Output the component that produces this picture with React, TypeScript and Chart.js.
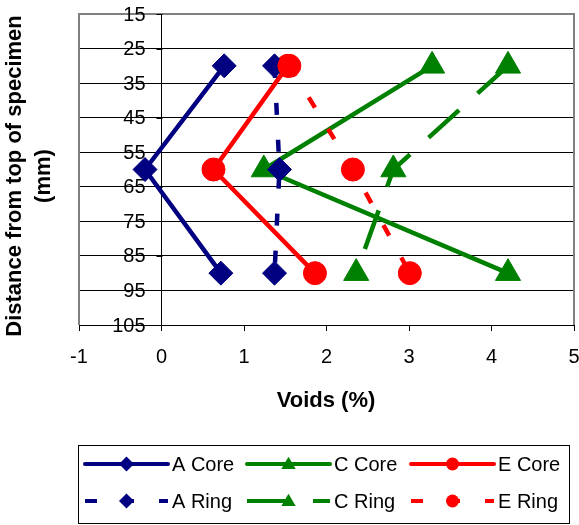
import React, { useEffect, useRef } from "react";
import { Chart, registerables } from "chart.js";

Chart.register(...registerables);

const FONT = "'Liberation Sans', Arial, sans-serif";

// Data (Voids % vs distance from top of specimen, mm)
const depths = [30, 60, 90];
const aCore = [0.76, -0.2, 0.72];
const cCore = [3.28, 1.24, 4.2];
const eCore = [1.53, 0.63, 1.86];
const aRing = [1.37, 1.43, 1.37];
const cRing = [4.2, 2.81, 2.36];
const eRing = [1.55, 2.32, 3.01];

const seriesNames = ["A Core", "C Core", "E Core", "A Ring", "C Ring", "E Ring"];
const xTicks = [-1, 0, 1, 2, 3, 4, 5];
const yTicks = [15, 25, 35, 45, 55, 65, 75, 85, 95, 105];
const xTitle = "Voids (%)";
const yTitleLines = ["Distance from top of specimen", "(mm)"];

const NAVY = "#000080";
const GREEN = "#008000";
const RED = "#FF0000";

type Style = { color: string; point: string; radius: number; dash: number[]; legendR: number };
const styles: Style[] = [
  { color: NAVY, point: "rectRot", radius: 12, dash: [], legendR: 7.5 },
  { color: GREEN, point: "triangle", radius: 14.5, dash: [], legendR: 8 },
  { color: RED, point: "circle", radius: 11.5, dash: [], legendR: 6.5 },
  { color: NAVY, point: "rectRot", radius: 12, dash: [12, 25], legendR: 7.5 },
  { color: GREEN, point: "triangle", radius: 14.5, dash: [41, 25], legendR: 8 },
  { color: RED, point: "circle", radius: 11.5, dash: [12, 25], legendR: 6.5 },
];
const seriesValues = [aCore, cCore, eCore, aRing, cRing, eRing];

function drawMarker(ctx: CanvasRenderingContext2D, style: string, x: number, y: number, r: number, color: string) {
  ctx.save();
  ctx.setLineDash([]);
  ctx.fillStyle = color;
  ctx.beginPath();
  if (style === "rectRot") {
    ctx.moveTo(x, y - r);
    ctx.lineTo(x + r, y);
    ctx.lineTo(x, y + r);
    ctx.lineTo(x - r, y);
    ctx.closePath();
  } else if (style === "triangle") {
    const h = r * 0.9;
    ctx.moveTo(x, y - h);
    ctx.lineTo(x + h, y + h * 0.7);
    ctx.lineTo(x - h, y + h * 0.7);
    ctx.closePath();
  } else {
    ctx.arc(x, y, r, 0, Math.PI * 2);
  }
  ctx.fill();
  ctx.restore();
}

const decorPlugin = {
  id: "decor",
  beforeDatasetsDraw(chart: any) {
    const { ctx, chartArea, scales } = chart;
    const { left, right, top, bottom } = chartArea;
    ctx.save();
    ctx.strokeStyle = "#808080";
    ctx.lineWidth = 2;
    ctx.beginPath();
    ctx.moveTo(left, bottom);
    ctx.lineTo(left, top);
    ctx.lineTo(right, top);
    ctx.lineTo(right, bottom);
    ctx.stroke();
    const axisX = Math.round(scales.x.getPixelForValue(0)) + 0.5;
    // y axis tick marks (pointing left from the axis at x = 0)
    ctx.strokeStyle = "#000";
    ctx.lineWidth = 1;
    ctx.beginPath();
    yTicks.forEach((v) => {
      const py = Math.round(scales.y.getPixelForValue(v)) + 0.5;
      ctx.moveTo(axisX - 6, py);
      ctx.lineTo(axisX, py);
    });
    ctx.stroke();
    ctx.fillStyle = "#000";
    ctx.font = `20px ${FONT}`;
    // Y tick labels, right-aligned a little left of the y axis
    ctx.textAlign = "right";
    ctx.textBaseline = "middle";
    yTicks.forEach((v) => {
      ctx.fillText(String(v), axisX - 17, scales.y.getPixelForValue(v) + 1);
    });
    // X tick labels below the axis
    ctx.textAlign = "center";
    xTicks.forEach((v) => {
      ctx.fillText(String(v), scales.x.getPixelForValue(v), bottom + 32);
    });
    ctx.restore();
  },
  afterDraw(chart: any) {
    const { ctx } = chart;
    ctx.save();
    // Y title (rotated)
    ctx.fillStyle = "#000";
    ctx.font = `bold 22px ${FONT}`;
    ctx.textAlign = "center";
    ctx.textBaseline = "alphabetic";
    const baselines = [21, 50];
    yTitleLines.forEach((line, i) => {
      ctx.save();
      ctx.translate(baselines[i], 176);
      ctx.rotate(-Math.PI / 2);
      ctx.fillText(line, 0, 0);
      ctx.restore();
    });
    // X title
    ctx.font = `bold 22px ${FONT}`;
    ctx.textBaseline = "middle";
    ctx.fillText(xTitle, 326, 401);

    // Legend
    ctx.strokeStyle = "#000";
    ctx.lineWidth = 1;
    ctx.strokeRect(78.5, 445.5, 491, 78);
    const colX = [85, 247, 411];
    const rowY = [464, 501];
    const lineLen = 83;
    ctx.font = `20px ${FONT}`;
    ctx.textAlign = "left";
    ctx.textBaseline = "middle";
    seriesNames.forEach((name, i) => {
      const st = styles[i];
      const x0 = colX[i % 3];
      const y0 = rowY[Math.floor(i / 3)];
      ctx.save();
      ctx.strokeStyle = st.color;
      ctx.lineWidth = 4;
      ctx.lineCap = st.dash.length ? "butt" : "round";
      ctx.setLineDash(st.dash);
      ctx.beginPath();
      ctx.moveTo(x0, y0);
      ctx.lineTo(x0 + lineLen, y0);
      ctx.stroke();
      ctx.restore();
      drawMarker(ctx, st.point, x0 + lineLen / 2, y0, st.legendR, st.color);
      ctx.fillStyle = "#000";
      ctx.fillText(name, x0 + lineLen + 4, y0 + 1);
    });
    ctx.restore();
  },
};

export default function App() {
  const ref = useRef<HTMLCanvasElement | null>(null);
  useEffect(() => {
    if (!ref.current) return;
    const datasets = seriesNames.map((name, i) => {
      const st = styles[i];
      return {
        label: name,
        data: depths.map((d, j) => ({ x: seriesValues[i][j], y: d })),
        showLine: true,
        borderColor: st.color,
        backgroundColor: st.color,
        borderWidth: 4.5,
        borderDash: st.dash,
        borderCapStyle: st.dash.length ? "butt" : "round",
        borderJoinStyle: "round",
        pointStyle: st.point,
        pointRadius: st.radius,
        pointHoverRadius: st.radius,
        pointBorderWidth: 1,
        pointBorderColor: st.color,
        pointBackgroundColor: st.color,
        order: seriesNames.length - i,
        clip: false,
      };
    });
    const chart = new Chart(ref.current, {
      type: "scatter",
      data: { datasets } as any,
      plugins: [decorPlugin],
      options: {
        responsive: false,
        animation: false,
        devicePixelRatio: 1,
        layout: { autoPadding: false, padding: { left: 79, right: 5, top: 14, bottom: 0 } },
        plugins: { legend: { display: false }, tooltip: { enabled: false } },
        scales: {
          x: {
            type: "linear",
            position: "bottom",
            min: -1,
            max: 5,
            afterBuildTicks: (s: any) => {
              s.ticks = xTicks.map((v) => ({ value: v }));
            },
            afterFit: (s: any) => {
              s.height = 200;
            },
            grid: {
              color: (c: any) => (c.tick && c.tick.value === 0 ? "#000" : "rgba(0,0,0,0)"),
              tickColor: "#000",
              tickLength: 6,
            },
            border: { display: true, color: "#000", width: 1 },
            ticks: { display: false },
          },
          y: {
            type: "linear",
            position: "left",
            min: 15,
            max: 105,
            reverse: true,
            afterBuildTicks: (s: any) => {
              s.ticks = yTicks.map((v) => ({ value: v }));
            },
            afterFit: (s: any) => {
              s.width = 0;
            },
            grid: { color: "#000", drawTicks: false, tickLength: 0 },
            border: { display: false },
            ticks: { display: false },
          },
        },
      } as any,
    });
    return () => chart.destroy();
  }, []);
  return (
    <div style={{ position: "fixed", left: 0, top: 0, width: 579, height: 525, background: "#fff" }}>
      <canvas ref={ref} width={579} height={525} style={{ display: "block", width: 579, height: 525 }} />
    </div>
  );
}
